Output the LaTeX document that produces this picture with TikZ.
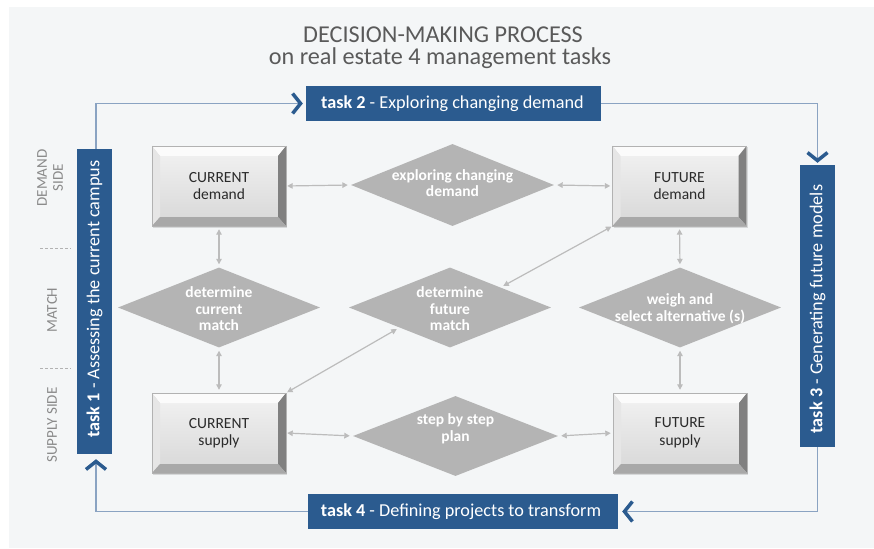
\documentclass[tikz,border=0pt]{standalone}
\usepackage{fontspec}
\setmainfont{Carlito}
\usetikzlibrary{shapes.geometric,arrows.meta,calc,shadows}
\definecolor{taskblue}{HTML}{2B5B8F}
\definecolor{flowblue}{HTML}{8AA3C2}
\definecolor{dgray}{HTML}{B4B4B4}
\definecolor{cgray}{HTML}{BCBCBC}
\definecolor{lblgray}{HTML}{8A8A8A}
\definecolor{titlegray}{HTML}{5A5A5A}
\definecolor{panelbg}{HTML}{F4F6F7}
\definecolor{textdark}{HTML}{2A2A2A}
\definecolor{faceTop}{HTML}{EFEFEF}
\definecolor{faceBot}{HTML}{DADADA}
\definecolor{bevTop}{HTML}{FBFBFB}
\definecolor{bevLeft}{HTML}{E6E6E6}
\definecolor{bevRight}{HTML}{808080}
\definecolor{bevBot}{HTML}{A8A8A8}
\tikzset{
  bevelbox/.style={rectangle, minimum width=134pt, minimum height=80pt, inner sep=0pt,
    align=center, font=\fontsize{15.5}{17.5}\selectfont, text=textdark, draw=gray!60, line width=0.4pt,
    drop shadow={shadow xshift=1pt, shadow yshift=-1.5pt, opacity=0.25},
    path picture={
      \path (path picture bounding box.north west) coordinate (bnw)
            (path picture bounding box.north east) coordinate (bne)
            (path picture bounding box.south west) coordinate (bsw)
            (path picture bounding box.south east) coordinate (bse);
      \path ($(bnw)+(8pt,-10pt)$) coordinate (inw) ($(bne)+(-8pt,-10pt)$) coordinate (ine)
            ($(bsw)+(8pt,9pt)$) coordinate (isw) ($(bse)+(-8pt,9pt)$) coordinate (ise);
      \fill[top color=faceTop, bottom color=faceBot] (inw) rectangle (ise);
      \fill[bevTop] (bnw) -- (bne) -- (ine) -- (inw) -- cycle;
      \fill[bevLeft] (bnw) -- (inw) -- (isw) -- (bsw) -- cycle;
      \fill[bevRight] (bne) -- (ine) -- (ise) -- (bse) -- cycle;
      \fill[bevBot] (bsw) -- (isw) -- (ise) -- (bse) -- cycle;
    }},
  dia/.style={diamond, fill=dgray, minimum width=202pt, minimum height=80pt, inner sep=0pt},
  dtext/.style={text=white, font=\bfseries\fontsize{15.5}{16.5}\selectfont, align=center, inner sep=0pt},
  taskbox/.style={rectangle, fill=taskblue, inner sep=0pt},
  tasktext/.style={text=white, font=\fontsize{18.2}{20}\selectfont, inner sep=0pt},
  lbl/.style={text=lblgray, font=\fontsize{15}{16}\selectfont, align=center, inner sep=0pt, rotate=90},
  conn/.style={draw=cgray, line width=1.2pt,
    {Triangle[length=5.5pt,width=5.5pt]}-{Triangle[length=5.5pt,width=5.5pt]},
    shorten <=3pt, shorten >=3pt},
  flowline/.style={draw=flowblue, line width=1.5pt,
    -{Straight Barb[length=8pt,width=20pt,line width=3.5pt,color=taskblue]}},
  sepline/.style={draw=gray!60, dashed, dash pattern=on 3pt off 2pt, line width=0.8pt}
}
\begin{document}
\begin{tikzpicture}[x=1pt,y=-1pt]
  \useasboundingbox (0,0) rectangle (874,548);
  \fill[white] (0,0) rectangle (874,548);
  \fill[panelbg] (9,7) rectangle (874,548);

  % title
  \node[anchor=base, text=titlegray, font=\fontsize{24.2}{26}\selectfont, inner sep=0pt] (title1) at (443,43) {DECISION-MAKING PROCESS};
  \node[anchor=base, text=titlegray, font=\fontsize{24.2}{26}\selectfont, inner sep=0pt] (title2) at (440,65) {on real estate 4 management tasks};

  % side labels
  \node[lbl] (lblDemand) at (50,178) {DEMAND\\SIDE};
  \node[lbl] (lblMatch) at (52,310) {MATCH};
  \node[lbl] (lblSupply) at (52,425) {SUPPLY SIDE};
  \coordinate (sepA1) at (40,248); \coordinate (sepA2) at (71,248);
  \coordinate (sepB1) at (40,368); \coordinate (sepB2) at (71,368);
  \draw[sepline] (sepA1) -- (sepA2);
  \draw[sepline] (sepB1) -- (sepB2);

  % task boxes
  \node[taskbox, minimum width=35pt, minimum height=305pt] (t1) at (94.5,301.5) {};
  \node[tasktext, rotate=90] (t1text) at (94.5,299) {\textbf{task 1} - Assessing the current campus};
  \node[taskbox, minimum width=295pt, minimum height=35pt] (t2) at (453.5,103.5) {};
  \node[tasktext] (t2text) at (452.5,103.5) {\textbf{task 2} - Exploring changing demand};
  \node[taskbox, minimum width=35pt, minimum height=282pt] (t3) at (817.5,306) {};
  \node[tasktext, rotate=90] (t3text) at (817.5,309) {\textbf{task 3} - Generating future models};
  \node[taskbox, minimum width=310pt, minimum height=35pt] (t4) at (463,511.5) {};
  \node[tasktext] (t4text) at (461,511.5) {\textbf{task 4} - Defining projects to transform};

  % flow connectors
  \draw[flowline, shorten >=3pt] ([xshift=1.5pt]t1.north) |- (t2.west);
  \draw[flowline, shorten >=2pt] (t2.east) -| (t3.north);
  \draw[flowline, shorten >=4pt] (t3.south) |- (t4.east);
  \draw[flowline, shorten >=5pt] (t4.west) -| ([xshift=1.5pt]t1.south);

  % boxes
  \node[bevelbox] (cd) at (219,186) {CURRENT\\demand};
  \node[bevelbox] (fd) at (679.5,186) {FUTURE\\demand};
  \node[bevelbox] (cs) at (219,433) {CURRENT\\supply};
  \node[bevelbox] (fs) at (680,433) {FUTURE\\supply};

  % diamonds
  \node[dia, minimum width=203pt, minimum height=82pt] (ed) at (452.5,185) {};
  \node[dtext] (edt) at (452.5,183) {exploring changing\\demand};
  \node[dia] (cm) at (219,307.5) {};
  \node[dtext] (cmt) at (219,309) {determine\\current\\match};
  \node[dia] (fm) at (450,307.5) {};
  \node[dtext] (fmt) at (450,309) {determine\\future\\match};
  \node[dia] (ws) at (680,307.5) {};
  \node[dtext] (wst) at (680,308.5) {weigh and\\select alternative (s)};
  \node[dia, minimum width=205pt] (sp) at (455.5,436) {};
  \node[dtext] (spt) at (455.5,429) {step by step\\plan};

  % gray connectors
  \draw[conn, shorten <=1pt] (cd.east) -- (ed.west);
  \draw[conn, shorten >=2pt] (ed.east) -- (fd.west);
  \draw[conn] (cd.south) -- (cm.north);
  \draw[conn] (cm.south) -- (cs.north);
  \draw[conn] (fd.south) -- (ws.north);
  \draw[conn] (ws.south) -- (fs.north);
  \draw[conn, shorten <=1pt] (cs.east) -- (sp.west);
  \draw[conn, shorten >=2pt] (sp.east) -- (fs.west);
  \draw[conn, shorten <=1pt] (cs.north east) -- (fm.south west);
  \draw[conn, shorten >=1pt] (fm.north east) -- (fd.south west);
\end{tikzpicture}
\end{document}
